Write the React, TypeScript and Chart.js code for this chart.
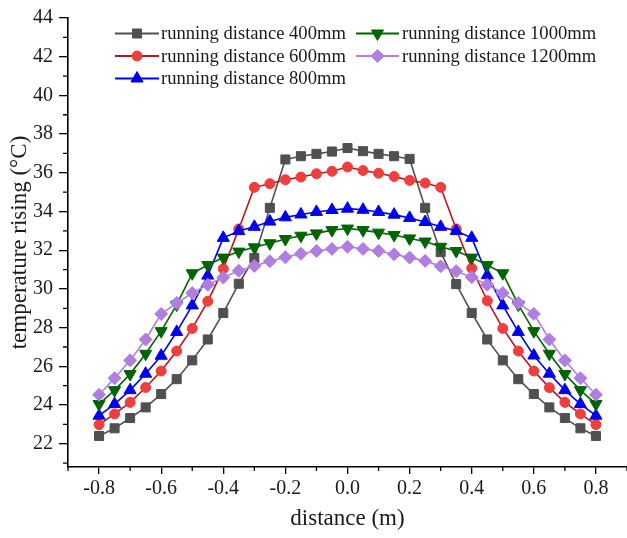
import React, { useEffect, useRef } from "react";
import { Chart, registerables } from "chart.js";
import { drawPoint } from "chart.js/helpers";

Chart.register(...registerables);

const distances = [
  -0.8, -0.75, -0.7, -0.65, -0.6, -0.55, -0.5, -0.45, -0.4, -0.35, -0.3, -0.25, -0.2, -0.15, -0.1, -0.05,
  0, 0.05, 0.1, 0.15, 0.2, 0.25, 0.3, 0.35, 0.4, 0.45, 0.5, 0.55, 0.6, 0.65, 0.7, 0.75, 0.8,
];

const run400 = [
  22.4, 22.8, 23.33, 23.88, 24.57, 25.34, 26.31, 27.39, 28.76, 30.27, 31.6, 34.19, 36.69, 36.86, 36.98, 37.1,
  37.28, 37.12, 36.98, 36.86, 36.72, 34.19, 31.9, 30.25, 28.76, 27.39, 26.31, 25.34, 24.57, 23.88, 23.33, 22.8, 22.4,
];
const run600 = [
  22.99, 23.54, 24.14, 24.91, 25.76, 26.79, 27.96, 29.36, 31.04, 33.1, 35.25, 35.44, 35.64, 35.78, 35.95, 36.08,
  36.3, 36.12, 35.98, 35.81, 35.61, 35.47, 35.25, 33.1, 31.07, 29.39, 27.96, 26.79, 25.76, 24.9, 24.14, 23.54, 22.99,
];
const run800 = [
  23.45, 24.05, 24.77, 25.62, 26.55, 27.78, 29.15, 30.69, 32.64, 32.99, 33.21, 33.48, 33.7, 33.85, 33.98, 34.08,
  34.15, 34.09, 33.98, 33.84, 33.67, 33.46, 33.21, 32.99, 32.64, 30.71, 29.15, 27.78, 26.56, 25.62, 24.77, 24.05, 23.45,
];
const run1000 = [
  24.05, 24.77, 25.6, 26.65, 27.82, 29.19, 30.81, 31.24, 31.62, 31.93, 32.15, 32.36, 32.58, 32.75, 32.87, 33.04,
  33.12, 33.04, 32.91, 32.79, 32.61, 32.45, 32.18, 31.96, 31.62, 31.24, 30.81, 29.19, 27.82, 26.65, 25.6, 24.77, 24.05,
];
const run1200 = [
  24.53, 25.39, 26.31, 27.39, 28.71, 29.27, 29.79, 30.22, 30.59, 30.94, 31.19, 31.43, 31.64, 31.82, 31.96, 32.07,
  32.18, 32.07, 31.96, 31.79, 31.62, 31.45, 31.17, 30.92, 30.61, 30.22, 29.79, 29.27, 28.71, 27.39, 26.31, 25.39, 24.53,
];

const seriesLabels = [
  "running distance 400mm",
  "running distance 600mm",
  "running distance 800mm",
  "running distance 1000mm",
  "running distance 1200mm",
];

const xMajorTicks = [-0.8, -0.6, -0.4, -0.2, 0.0, 0.2, 0.4, 0.6, 0.8];
const xMinorTicks = [-0.9, -0.7, -0.5, -0.3, -0.1, 0.1, 0.3, 0.5, 0.7, 0.9];
const yMajorTicks = [22, 24, 26, 28, 30, 32, 34, 36, 38, 40, 42, 44];
const yMinorTicks = [21, 23, 25, 27, 29, 31, 33, 35, 37, 39, 41, 43];

const FONT = "'Liberation Serif', 'Times New Roman', serif";

const styles = [
  { line: "#505050", fill: "#505050", pointStyle: "rect", radius: 6.4, rotation: 0 },
  { line: "#b8141a", fill: "#ee3e3e", pointStyle: "circle", radius: 5, rotation: 0 },
  { line: "#0000f0", fill: "#0000f0", pointStyle: "triangle", radius: 7, rotation: 0 },
  { line: "#006400", fill: "#006400", pointStyle: "triangle", radius: 7, rotation: 180 },
  { line: "#b07ee0", fill: "#b07ee0", pointStyle: "rectRot", radius: 6.5, rotation: 0 },
];

const seriesValues = [run400, run600, run800, run1000, run1200];

const legendPlugin = {
  id: "customLegend",
  afterDraw(chart: any) {
    const ctx = chart.ctx;
    const rows = [33.5, 56, 78.5];
    const cols = [
      { x0: 115, x1: 159, tx: 161 },
      { x0: 356, x1: 399, tx: 402 },
    ];
    const places = [
      [0, 0],
      [0, 1],
      [0, 2],
      [1, 0],
      [1, 1],
    ];
    ctx.save();
    seriesLabels.forEach((label, i) => {
      const st = styles[i];
      const col = cols[places[i][0]];
      const y = rows[places[i][1]];
      ctx.strokeStyle = st.line;
      ctx.lineWidth = 1.8;
      ctx.beginPath();
      ctx.moveTo(col.x0, y);
      ctx.lineTo(col.x1, y);
      ctx.stroke();
      ctx.fillStyle = st.fill;
      ctx.strokeStyle = st.fill;
      ctx.lineWidth = 1;
      drawPoint(ctx, { pointStyle: st.pointStyle, rotation: st.rotation, radius: st.radius, borderWidth: 1 } as any, (col.x0 + col.x1) / 2, y);
      ctx.fillStyle = "#1a1a1a";
      ctx.font = `18.6px ${FONT}`;
      ctx.textAlign = "left";
      ctx.textBaseline = "middle";
      ctx.fillText(label, col.tx, y + 1);
    });
    ctx.restore();
  },
};

const minorTickPlugin = {
  id: "minorTicks",
  afterDraw(chart: any) {
    const ctx = chart.ctx;
    const xs = chart.scales.x;
    const ys = chart.scales.y;
    const area = chart.chartArea;
    ctx.save();
    ctx.strokeStyle = "#000";
    ctx.lineWidth = 1.3;
    ctx.beginPath();
    xMinorTicks.forEach((v) => {
      const px = xs.getPixelForValue(v);
      ctx.moveTo(px, area.bottom);
      ctx.lineTo(px, area.bottom + 4);
    });
    yMinorTicks.forEach((v) => {
      const py = ys.getPixelForValue(v);
      ctx.moveTo(area.left, py);
      ctx.lineTo(area.left - 5, py);
    });
    ctx.stroke();
    ctx.restore();
  },
};

export default function App() {
  const canvasRef = useRef<HTMLCanvasElement | null>(null);

  useEffect(() => {
    if (!canvasRef.current) return;
    const datasets = seriesValues.map((vals, i) => ({
      label: seriesLabels[i],
      data: vals.map((v, j) => ({ x: distances[j], y: v })),
      borderColor: styles[i].line,
      backgroundColor: styles[i].fill,
      pointBackgroundColor: styles[i].fill,
      pointBorderColor: styles[i].fill,
      pointBorderWidth: 1,
      pointStyle: styles[i].pointStyle as any,
      pointRotation: styles[i].rotation,
      pointRadius: styles[i].radius,
      pointHoverRadius: styles[i].radius,
      borderWidth: 1.6,
      tension: 0,
      fill: false,
      clip: false as any,
      order: 4 - i,
    }));

    const chart = new Chart(canvasRef.current, {
      type: "line",
      data: { datasets },
      options: {
        animation: false,
        responsive: false,
        maintainAspectRatio: false,
        layout: { autoPadding: false, padding: { top: 15, right: 0, left: 0, bottom: 0 } },
        plugins: {
          legend: { display: false },
          tooltip: { enabled: false },
        },
        scales: {
          x: {
            type: "linear",
            min: -0.9,
            max: 0.9,
            afterBuildTicks: (scale: any) => {
              scale.ticks = xMajorTicks.map((v) => ({ value: v }));
            },
            afterFit: (scale: any) => {
              scale.height = 71;
              scale.paddingLeft = 0;
              scale.paddingRight = 0;
            },
            ticks: {
              color: "#1a1a1a",
              font: { family: FONT, size: 20 },
              padding: 3,
              maxRotation: 0,
              autoSkip: false,
              callback: (v: any) => Number(v).toFixed(1),
            },
            grid: {
              display: true,
              drawOnChartArea: false,
              drawTicks: true,
              tickLength: 7,
              color: "#000",
              lineWidth: 1.3,
            },
            border: { display: true, color: "#000", width: 1.6 },
            title: {
              display: true,
              text: "distance (m)",
              color: "#1a1a1a",
              font: { family: FONT, size: 23 },
              padding: { top: 0, bottom: 5 },
            },
          },
          y: {
            type: "linear",
            min: 20.8,
            max: 44,
            afterBuildTicks: (scale: any) => {
              scale.ticks = yMajorTicks.map((v) => ({ value: v }));
            },
            afterFit: (scale: any) => {
              scale.width = 68;
            },
            ticks: {
              color: "#1a1a1a",
              font: { family: FONT, size: 20 },
              padding: 6,
              autoSkip: false,
            },
            grid: {
              display: true,
              drawOnChartArea: false,
              drawTicks: true,
              tickLength: 9,
              color: "#000",
              lineWidth: 1.3,
            },
            border: { display: true, color: "#000", width: 1.6 },
            title: {
              display: true,
              text: "temperature rising (°C)",
              color: "#1a1a1a",
              font: { family: FONT, size: 23 },
              padding: { top: 6, bottom: 0 },
            },
          },
        },
      },
      plugins: [legendPlugin, minorTickPlugin],
    });
    return () => chart.destroy();
  }, []);

  return (
    <div style={{ position: "fixed", left: 0, top: 0, width: 627, height: 538, background: "#fff" }}>
      <canvas ref={canvasRef} width={627} height={538} style={{ width: 627, height: 538, display: "block" }} />
    </div>
  );
}
